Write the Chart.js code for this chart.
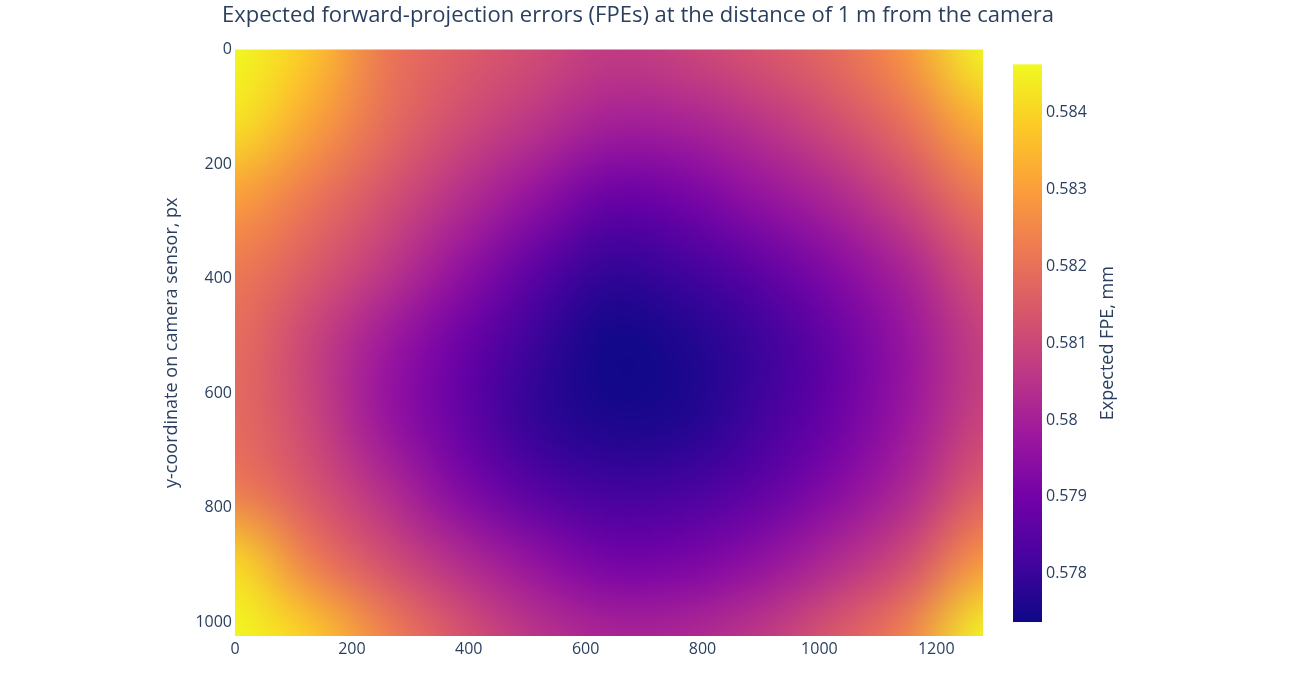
<!DOCTYPE html>
<html>
<head>
<meta charset="utf-8">
<script src="https://cdn.jsdelivr.net/npm/chart.js@4.4.1/dist/chart.umd.min.js"></script>
<style>
  html, body { margin: 0; padding: 0; background: #fff; }
  #wrap { width: 1292px; height: 674px; }
</style>
</head>
<body>
<div id="wrap"><canvas id="fpe" width="1292" height="674"></canvas></div>
<script>
// sensor grid nodes, px
const xNodes = [0, 128, 256, 384, 512, 640, 768, 896, 1024, 1152, 1280];
const yNodes = [0, 128, 256, 384, 512, 640, 768, 896, 1024];

// expected FPE, mm (one row per yNodes value)
const fpeRow0 = [0.58463, 0.58376, 0.58216, 0.58158, 0.58115, 0.58071, 0.58093, 0.58136, 0.58187, 0.58282, 0.58463];
const fpeRow1 = [0.58427, 0.58311, 0.58194, 0.58115, 0.58056, 0.57998, 0.58006, 0.58049, 0.58115, 0.58202, 0.58340];
const fpeRow2 = [0.58303, 0.58216, 0.58129, 0.58042, 0.57962, 0.57882, 0.57904, 0.57962, 0.58020, 0.58107, 0.58223];
const fpeRow3 = [0.58223, 0.58151, 0.58064, 0.57962, 0.57860, 0.57788, 0.57810, 0.57860, 0.57933, 0.58013, 0.58136];
const fpeRow4 = [0.58194, 0.58093, 0.57984, 0.57889, 0.57802, 0.57740, 0.57759, 0.57802, 0.57875, 0.57969, 0.58085];
const fpeRow5 = [0.58187, 0.58100, 0.57969, 0.57875, 0.57788, 0.57752, 0.57759, 0.57810, 0.57882, 0.57977, 0.58093];
const fpeRow6 = [0.58223, 0.58136, 0.58035, 0.57926, 0.57846, 0.57810, 0.57817, 0.57860, 0.57933, 0.58020, 0.58158];
const fpeRow7 = [0.58412, 0.58231, 0.58122, 0.58035, 0.57962, 0.57904, 0.57911, 0.57955, 0.58027, 0.58115, 0.58289];
const fpeRow8 = [0.58463, 0.58390, 0.58245, 0.58136, 0.58056, 0.58013, 0.58020, 0.58064, 0.58144, 0.58245, 0.58463];
const fpeRows = [fpeRow0, fpeRow1, fpeRow2, fpeRow3, fpeRow4, fpeRow5, fpeRow6, fpeRow7, fpeRow8];

const xTicks = [0, 200, 400, 600, 800, 1000, 1200];
const yTicks = [0, 200, 400, 600, 800, 1000];
const cbTicks = [0.578, 0.579, 0.58, 0.581, 0.582, 0.583, 0.584];
const fpeMin = 0.57737;
const fpeMax = 0.58463;

const plasma = ["#0d0887", "#46039f", "#7201a8", "#9c179e", "#bd3786",
                "#d8576b", "#ed7953", "#fb9f3a", "#fdca26", "#f0f921"];

const textColor = "#2a3f5f";
const fontFamily = "'Open Sans', sans-serif";

function hexToRgb(h) {
  return [parseInt(h.slice(1, 3), 16), parseInt(h.slice(3, 5), 16), parseInt(h.slice(5, 7), 16)];
}
const plasmaRgb = plasma.map(hexToRgb);

function plasmaColor(t) {
  t = Math.min(1, Math.max(0, t)) * (plasmaRgb.length - 1);
  const i = Math.min(Math.floor(t), plasmaRgb.length - 2);
  const f = t - i;
  const a = plasmaRgb[i], b = plasmaRgb[i + 1];
  return [0, 1, 2].map(k => Math.round(a[k] + (b[k] - a[k]) * f));
}

// one point per grid node
const points = [];
yNodes.forEach((y, j) => {
  xNodes.forEach((x, i) => points.push({ x: x, y: y, v: fpeRows[j][i] }));
});

const heatmap = {
  id: "heatmap",
  beforeDatasetsDraw(chart) {
    const { ctx, chartArea, scales } = chart;
    const pts = chart.data.datasets[0].data;
    const off = document.createElement("canvas");
    off.width = xNodes.length;
    off.height = yNodes.length;
    const octx = off.getContext("2d");
    const img = octx.createImageData(off.width, off.height);
    pts.forEach(p => {
      const i = xNodes.indexOf(p.x), j = yNodes.indexOf(p.y);
      const c = plasmaColor((p.v - fpeMin) / (fpeMax - fpeMin));
      const k = (j * off.width + i) * 4;
      img.data[k] = c[0]; img.data[k + 1] = c[1]; img.data[k + 2] = c[2]; img.data[k + 3] = 255;
    });
    octx.putImageData(img, 0, 0);

    const hx = (xNodes[1] - xNodes[0]) / 2, hy = (yNodes[1] - yNodes[0]) / 2;
    const x0 = scales.x.getPixelForValue(xNodes[0] - hx);
    const x1 = scales.x.getPixelForValue(xNodes[xNodes.length - 1] + hx);
    const y0 = scales.y.getPixelForValue(yNodes[0] - hy);
    const y1 = scales.y.getPixelForValue(yNodes[yNodes.length - 1] + hy);

    ctx.save();
    ctx.beginPath();
    ctx.rect(chartArea.left, chartArea.top, chartArea.right - chartArea.left, chartArea.bottom - chartArea.top);
    ctx.clip();
    ctx.imageSmoothingEnabled = true;
    ctx.imageSmoothingQuality = "high";
    ctx.drawImage(off, x0, y0, x1 - x0, y1 - y0);
    ctx.restore();
  },
  afterDraw(chart) {
    // colour bar
    const { ctx } = chart;
    const cb = chart.scales.cb;
    const top = cb.getPixelForValue(fpeMax);
    const bottom = cb.getPixelForValue(fpeMin);
    const left = cb.left + 30;
    const grad = ctx.createLinearGradient(0, bottom, 0, top);
    plasma.forEach((c, i) => grad.addColorStop(i / (plasma.length - 1), c));
    ctx.save();
    ctx.fillStyle = grad;
    ctx.fillRect(left, top, 29, bottom - top);

    ctx.translate(cb.left + 125, (top + bottom) / 2);
    ctx.rotate(-Math.PI / 2);
    ctx.fillStyle = textColor;
    ctx.font = "18px " + fontFamily;
    ctx.textAlign = "center";
    ctx.textBaseline = "middle";
    ctx.fillText("Expected FPE, mm", 0, 0);
    ctx.restore();
  }
};

const ctx = document.getElementById("fpe");

new Chart(ctx, {
  type: "scatter",
  data: {
    datasets: [{
      label: "FPE",
      data: points,
      pointRadius: 0,
      pointHoverRadius: 0,
    }],
  },
  options: {
    responsive: false,
    animation: false,
    devicePixelRatio: 1,
    layout: { padding: { left: 160, right: 176, top: 0, bottom: 8 } },
    plugins: {
      legend: { display: false },
      tooltip: { enabled: false },
      title: {
        display: true,
        text: "Expected forward-projection errors (FPEs) at the distance of 1 m from the camera",
        color: textColor,
        font: { family: fontFamily, size: 22, weight: "normal" },
        padding: { top: 3, bottom: 20 },
      },
    },
    scales: {
      x: {
        type: "linear",
        min: 0,
        max: 1280,
        grid: { display: false, drawTicks: false },
        border: { display: false },
        ticks: { color: textColor, font: { family: fontFamily, size: 16 }, padding: 4, callback: v => String(v) },
        afterBuildTicks: s => { s.ticks = xTicks.map(v => ({ value: v })); },
        afterFit: s => { s.height = 30; },
      },
      y: {
        type: "linear",
        reverse: true,
        min: 0,
        max: 1024,
        grid: { display: false, drawTicks: false },
        border: { display: false },
        ticks: { color: textColor, font: { family: fontFamily, size: 16 }, padding: 3, callback: v => String(v) },
        title: {
          display: true,
          text: "y-coordinate on camera sensor, px",
          color: textColor,
          font: { family: fontFamily, size: 18 },
          padding: { top: 1, bottom: 0 },
        },
        afterBuildTicks: s => { s.ticks = yTicks.map(v => ({ value: v })); },
        afterFit: s => { s.width = 75; },
      },
      cb: {
        type: "linear",
        position: "right",
        min: 0.577188,
        max: 0.584825,
        // tick marks are hidden; their length only pushes the labels right of the bar
        grid: { display: false, drawTicks: true, tickLength: 60 },
        border: { display: false },
        ticks: {
          color: textColor,
          font: { family: fontFamily, size: 16 },
          padding: 3,
          callback: v => String(Number(v.toFixed(3))),
        },
        afterBuildTicks: s => { s.ticks = cbTicks.map(v => ({ value: v })); },
        afterFit: s => { s.width = 133; },
      },
    },
  },
  plugins: [heatmap],
});
</script>
</body>
</html>
